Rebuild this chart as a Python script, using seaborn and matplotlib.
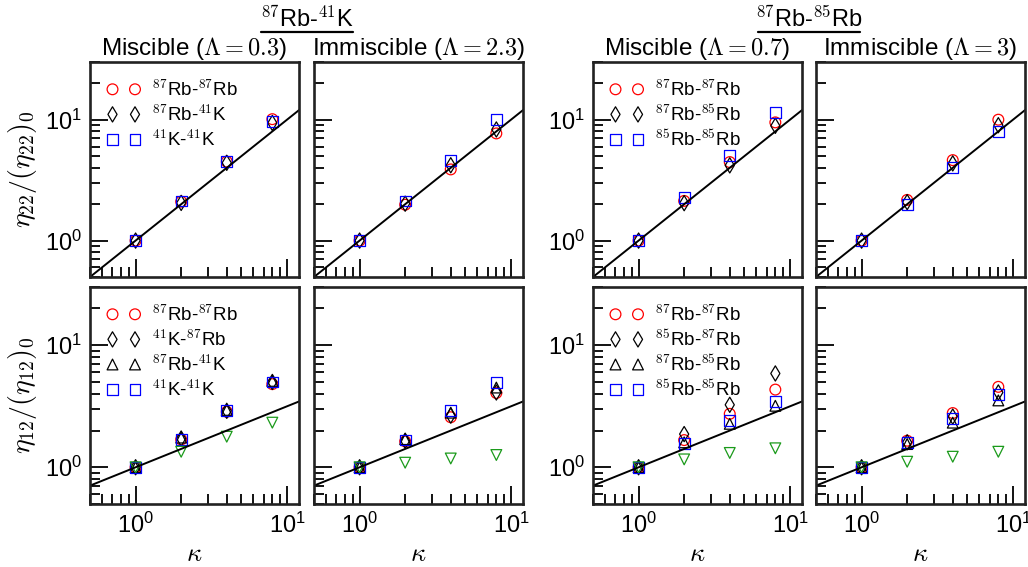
import matplotlib

matplotlib.use("Agg")  # headless backend
import matplotlib.pyplot as plt  # noqa: E402
import seaborn as sns  # noqa: E402
from matplotlib.lines import Line2D  # noqa: E402
from matplotlib.ticker import LogLocator, NullFormatter  # noqa: E402

# ---- data ----
kappa = [1, 2, 4, 8]

# reference lines (end points, log-log straight lines)
line_x = [0.5, 12.0]
line_top_y = [0.5, 12.0]      # eta22 ~ kappa
line_bot_y = [0.707, 3.46]    # eta12 ~ kappa^0.5

# top row: eta22/(eta22)_0
top_rbk_mis = {"rbrb": [1.0, 2.1, 4.5, 10.1], "mix": [1.0, 2.05, 4.4, 9.4], "light": [1.0, 2.13, 4.5, 9.7]}
top_rbk_imm = {"rbrb": [1.0, 1.98, 3.88, 7.7], "mix": [1.0, 2.02, 4.2, 8.3], "light": [1.0, 2.13, 4.63, 10.1]}
top_rbrb_mis = {"rbrb": [1.0, 2.13, 4.46, 9.5], "mix": [1.0, 2.04, 4.19, 8.9], "light": [1.0, 2.27, 5.06, 11.4]}
top_rbrb_imm = {"rbrb": [1.0, 2.17, 4.63, 10.0], "mix": [1.0, 2.08, 4.35, 9.0], "light": [1.0, 2.0, 4.0, 7.97]}

# bottom row: eta12/(eta12)_0
bot_rbk_mis = {"rbrb": [1.0, 1.69, 2.85, 4.8], "mix_a": [1.0, 1.72, 2.9, 5.0], "mix_b": [1.0, 1.75, 2.95, 5.1],
               "light": [1.0, 1.69, 2.92, 5.0], "other": [1.0, 1.34, 1.78, 2.32]}
bot_rbk_imm = {"rbrb": [1.0, 1.63, 2.57, 4.06], "mix_a": [1.0, 1.65, 2.65, 4.1], "mix_b": [1.0, 1.7, 2.8, 4.5],
               "light": [1.0, 1.67, 2.9, 4.92], "other": [1.0, 1.09, 1.18, 1.26]}
bot_rbrb_mis = {"rbrb": [1.0, 1.67, 2.74, 4.33], "mix_a": [1.0, 1.87, 3.25, 5.87], "mix_b": [1.0, 1.6, 2.27, 3.19],
                "light": [1.0, 1.57, 2.4, 3.46], "other": [1.0, 1.16, 1.31, 1.43]}
bot_rbrb_imm = {"rbrb": [1.0, 1.65, 2.78, 4.56], "mix_a": [1.0, 1.6, 2.6, 4.1], "mix_b": [1.0, 1.55, 2.32, 3.53],
                "light": [1.0, 1.59, 2.52, 3.94], "other": [1.0, 1.11, 1.22, 1.34]}

top_labels_rbk = ["$^{87}$Rb-$^{87}$Rb", "$^{87}$Rb-$^{41}$K", "$^{41}$K-$^{41}$K"]
top_labels_rbrb = ["$^{87}$Rb-$^{87}$Rb", "$^{87}$Rb-$^{85}$Rb", "$^{85}$Rb-$^{85}$Rb"]
bot_labels_rbk = ["$^{87}$Rb-$^{87}$Rb", "$^{41}$K-$^{87}$Rb", "$^{87}$Rb-$^{41}$K", "$^{41}$K-$^{41}$K"]
bot_labels_rbrb = ["$^{87}$Rb-$^{87}$Rb", "$^{85}$Rb-$^{87}$Rb", "$^{87}$Rb-$^{85}$Rb", "$^{85}$Rb-$^{85}$Rb"]

col_titles = [r"Miscible ($\Lambda = 0.3$)", r"Immiscible ($\Lambda = 2.3$)",
              r"Miscible ($\Lambda = 0.7$)", r"Immiscible ($\Lambda = 3$)"]
group_titles = ["$^{87}$Rb-$^{41}$K", "$^{87}$Rb-$^{85}$Rb"]

# ---- style ----
sns.set_style("ticks")
plt.rcParams["font.family"] = ["Liberation Sans", "DejaVu Sans"]
plt.rcParams["mathtext.fontset"] = "cm"
plt.rcParams["axes.linewidth"] = 1.9
for k in ["text.color", "axes.labelcolor", "xtick.color", "ytick.color"]:
    plt.rcParams[k] = "black"

STYLE_TOP = [("rbrb", "o", "red"), ("mix", "d", "black"), ("light", "s", "blue")]
STYLE_BOT = [("rbrb", "o", "red"), ("mix_a", "d", "black"), ("mix_b", "^", "black"),
             ("light", "s", "blue"), ("other", "v", "#1a9a1a")]

W, H = 1028, 567
fig = plt.figure(figsize=(W / 100, H / 100), dpi=100)

lefts = [90, 314, 593, 816]
panel_w = 209
rows = [(62, 215), (287, 217)]  # (top, height) in pixels


def make_ax(col, row):
    top, h = rows[row]
    return fig.add_axes([lefts[col] / W, 1 - (top + h) / H, panel_w / W, h / H])


def style_ax(ax, show_x, show_y):
    ax.set_xscale("log")
    ax.set_yscale("log")
    ax.set_xlim(0.5, 12)
    ax.set_ylim(0.5, 30)
    ax.xaxis.set_major_locator(LogLocator(base=10, numticks=10))
    ax.yaxis.set_major_locator(LogLocator(base=10, numticks=10))
    ax.xaxis.set_minor_locator(LogLocator(base=10, subs=range(2, 10), numticks=20))
    ax.yaxis.set_minor_locator(LogLocator(base=10, subs=range(2, 10), numticks=20))
    ax.xaxis.set_minor_formatter(NullFormatter())
    ax.yaxis.set_minor_formatter(NullFormatter())
    ax.tick_params(which="both", direction="in", top=False, right=False, width=1.3, labelsize=17, pad=6)
    ax.tick_params(which="major", length=13)
    ax.tick_params(which="minor", length=7)
    if not show_x:
        ax.tick_params(axis="x", which="both", labelbottom=False)
    if not show_y:
        ax.tick_params(axis="y", which="both", labelleft=False)
    for sp in ax.spines.values():
        sp.set_visible(True)
        sp.set_color("#222222")


def draw_panel(ax, data, styles, labels, line_y):
    sns.lineplot(x=line_x, y=line_y, color="black", linewidth=1.4, ax=ax, legend=False)
    for i, (key, marker, color) in enumerate(styles):
        lab = labels[i] if i < len(labels) else "_nolegend_"
        sns.scatterplot(x=kappa, y=data[key], marker=marker, s=60, facecolor="none",
                        edgecolor=color, linewidth=0.9, ax=ax, label=lab, legend=False)
    handles, labs = ax.get_legend_handles_labels()
    ax.legend(handles, labs, loc="upper left", frameon=False, scatterpoints=2, scatteryoffsets=[0.5],
              fontsize=13.5, handlelength=1.8, handletextpad=0.6, labelspacing=0.22,
              borderaxespad=0.3, borderpad=0.6)


top_sets = [(top_rbk_mis, top_labels_rbk), (top_rbk_imm, []), (top_rbrb_mis, top_labels_rbrb), (top_rbrb_imm, [])]
bot_sets = [(bot_rbk_mis, bot_labels_rbk), (bot_rbk_imm, []), (bot_rbrb_mis, bot_labels_rbrb), (bot_rbrb_imm, [])]

for c in range(4):
    ax_t = make_ax(c, 0)
    draw_panel(ax_t, top_sets[c][0], STYLE_TOP, top_sets[c][1], line_top_y)
    if not top_sets[c][1]:
        ax_t.get_legend().remove()
    style_ax(ax_t, show_x=False, show_y=(c in (0, 2)))
    ax_t.set_title(col_titles[c], fontsize=17.5, pad=4)
    ax_t.set_xlabel("")
    ax_t.set_ylabel("")

    ax_b = make_ax(c, 1)
    draw_panel(ax_b, bot_sets[c][0], STYLE_BOT, bot_sets[c][1], line_bot_y)
    if not bot_sets[c][1]:
        ax_b.get_legend().remove()
    style_ax(ax_b, show_x=True, show_y=(c in (0, 2)))
    ax_b.set_xlabel(r"$\kappa$", fontsize=19, labelpad=3)
    ax_b.set_ylabel("")

    if c == 0:
        ax_t.set_ylabel(r"$\eta_{22}/(\eta_{22})_0$", fontsize=20, labelpad=4)
        ax_b.set_ylabel(r"$\eta_{12}/(\eta_{12})_0$", fontsize=20, labelpad=4)

# group headers with underline
group_centers = [(lefts[0] + lefts[1] + panel_w) / 2, (lefts[2] + lefts[3] + panel_w) / 2]
group_halfw = [46, 51]
for gx, gt, hw in zip(group_centers, group_titles, group_halfw):
    fig.text(gx / W, 1 - 19 / H, gt, ha="center", va="center", fontsize=17)
    fig.add_artist(Line2D([(gx - hw) / W, (gx + hw) / W], [1 - 32 / H, 1 - 32 / H],
                          transform=fig.transFigure, color="black", linewidth=1.6))

fig.savefig("out.png", dpi=100)
plt.close(fig)
